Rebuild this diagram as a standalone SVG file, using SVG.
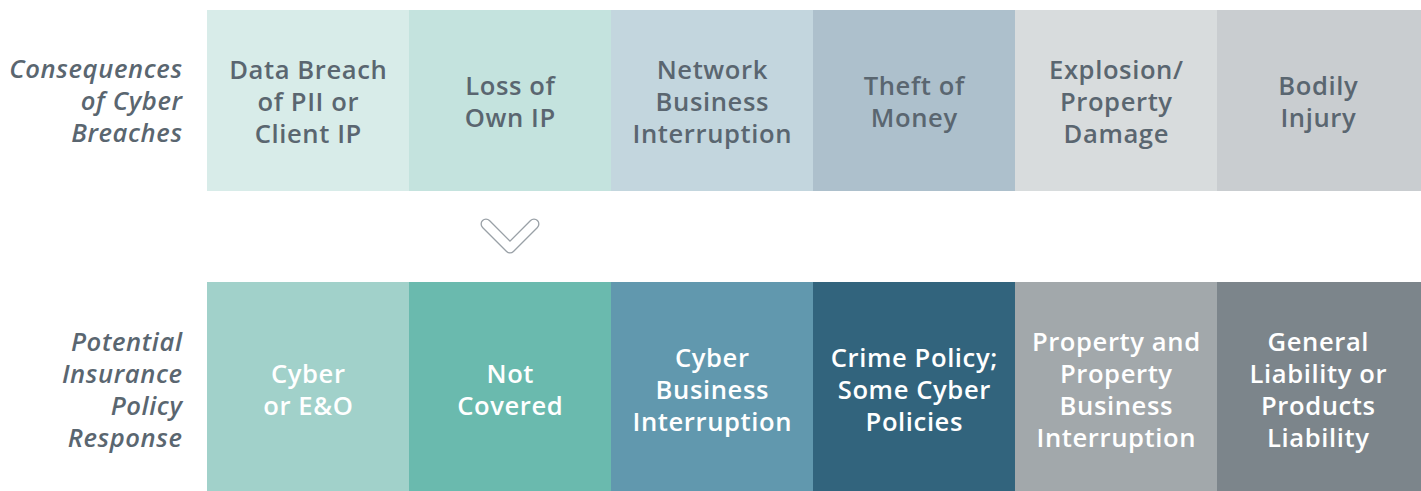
<svg xmlns="http://www.w3.org/2000/svg" width="1421" height="491" viewBox="0 0 1421 491">
<style>
text{font-family:"Open Sans","Noto Sans","Liberation Sans",sans-serif;font-weight:600;font-size:25.6px;letter-spacing:0.6px;text-anchor:middle}
.dark{fill:#5a6670}
.light{fill:#ffffff}
.lab{font-style:italic;text-anchor:end;fill:#5a6670}
</style>
<rect width="1421" height="491" fill="#ffffff"/>
<g id="label-consequences">
<text class="lab" x="182.6" y="77.5">Consequences</text>
<text class="lab" x="182.6" y="109.5">of Cyber</text>
<text class="lab" x="182.6" y="141.5">Breaches</text>
</g>
<g id="label-response">
<text class="lab" x="182.6" y="350.5">Potential</text>
<text class="lab" x="182.6" y="382.5">Insurance</text>
<text class="lab" x="182.6" y="414.5">Policy</text>
<text class="lab" x="182.6" y="446.5">Response</text>
</g>
<g id="c1"><rect x="207" y="10" width="202" height="181" fill="#d8ece9"/>
<text class="dark" x="308.3" y="78.5">Data Breach</text><text class="dark" x="308.3" y="110.5">of PII or</text><text class="dark" x="308.3" y="142.5">Client IP</text></g>
<g id="c2"><rect x="409" y="10" width="202" height="181" fill="#c4e3de"/>
<text class="dark" x="510.3" y="94.5">Loss of</text><text class="dark" x="510.3" y="126.5">Own IP</text></g>
<g id="c3"><rect x="611" y="10" width="202" height="181" fill="#c3d6de"/>
<text class="dark" x="712.3" y="78.5">Network</text><text class="dark" x="712.3" y="110.5">Business</text><text class="dark" x="712.3" y="142.5">Interruption</text></g>
<g id="c4"><rect x="813" y="10" width="202" height="181" fill="#adc0cc"/>
<text class="dark" x="914.3" y="94.5">Theft of</text><text class="dark" x="914.3" y="126.5">Money</text></g>
<g id="c5"><rect x="1015" y="10" width="202" height="181" fill="#d8dcdd"/>
<text class="dark" x="1116.3" y="78.5">Explosion/</text><text class="dark" x="1116.3" y="110.5">Property</text><text class="dark" x="1116.3" y="142.5">Damage</text></g>
<g id="c6"><rect x="1217" y="10" width="204" height="181" fill="#c9cdd0"/>
<text class="dark" x="1318.3" y="94.5">Bodily</text><text class="dark" x="1318.3" y="126.5">Injury</text></g>
<g id="connectors">
<path d="M486,224 L510,248 L534,224" fill="none" stroke="#9aa1a7" stroke-width="11" stroke-linecap="round" stroke-linejoin="round"/>
<path d="M486,224 L510,248 L534,224" fill="none" stroke="#ffffff" stroke-width="8.4" stroke-linecap="round" stroke-linejoin="round"/>
</g>
<g id="p1"><rect x="207" y="282" width="202" height="209" fill="#a1d1ca"/>
<text class="light" x="308.3" y="382.5">Cyber</text><text class="light" x="308.3" y="414.5">or E&amp;O</text></g>
<g id="p2"><rect x="409" y="282" width="202" height="209" fill="#6abaae"/>
<text class="light" x="510.3" y="382.5">Not</text><text class="light" x="510.3" y="414.5">Covered</text></g>
<g id="p3"><rect x="611" y="282" width="202" height="209" fill="#6198ae"/>
<text class="light" x="712.3" y="366.5">Cyber</text><text class="light" x="712.3" y="398.5">Business</text><text class="light" x="712.3" y="430.5">Interruption</text></g>
<g id="p4"><rect x="813" y="282" width="202" height="209" fill="#32647d"/>
<text class="light" x="914.3" y="366.5">Crime Policy;</text><text class="light" x="914.3" y="398.5">Some Cyber</text><text class="light" x="914.3" y="430.5">Policies</text></g>
<g id="p5"><rect x="1015" y="282" width="202" height="209" fill="#a2a8ab"/>
<text class="light" x="1116.3" y="350.5">Property and</text><text class="light" x="1116.3" y="382.5">Property</text><text class="light" x="1116.3" y="414.5">Business</text><text class="light" x="1116.3" y="446.5">Interruption</text></g>
<g id="p6"><rect x="1217" y="282" width="204" height="209" fill="#7c858b"/>
<text class="light" x="1318.3" y="350.5">General</text><text class="light" x="1318.3" y="382.5">Liability or</text><text class="light" x="1318.3" y="414.5">Products</text><text class="light" x="1318.3" y="446.5">Liability</text></g>
</svg>
